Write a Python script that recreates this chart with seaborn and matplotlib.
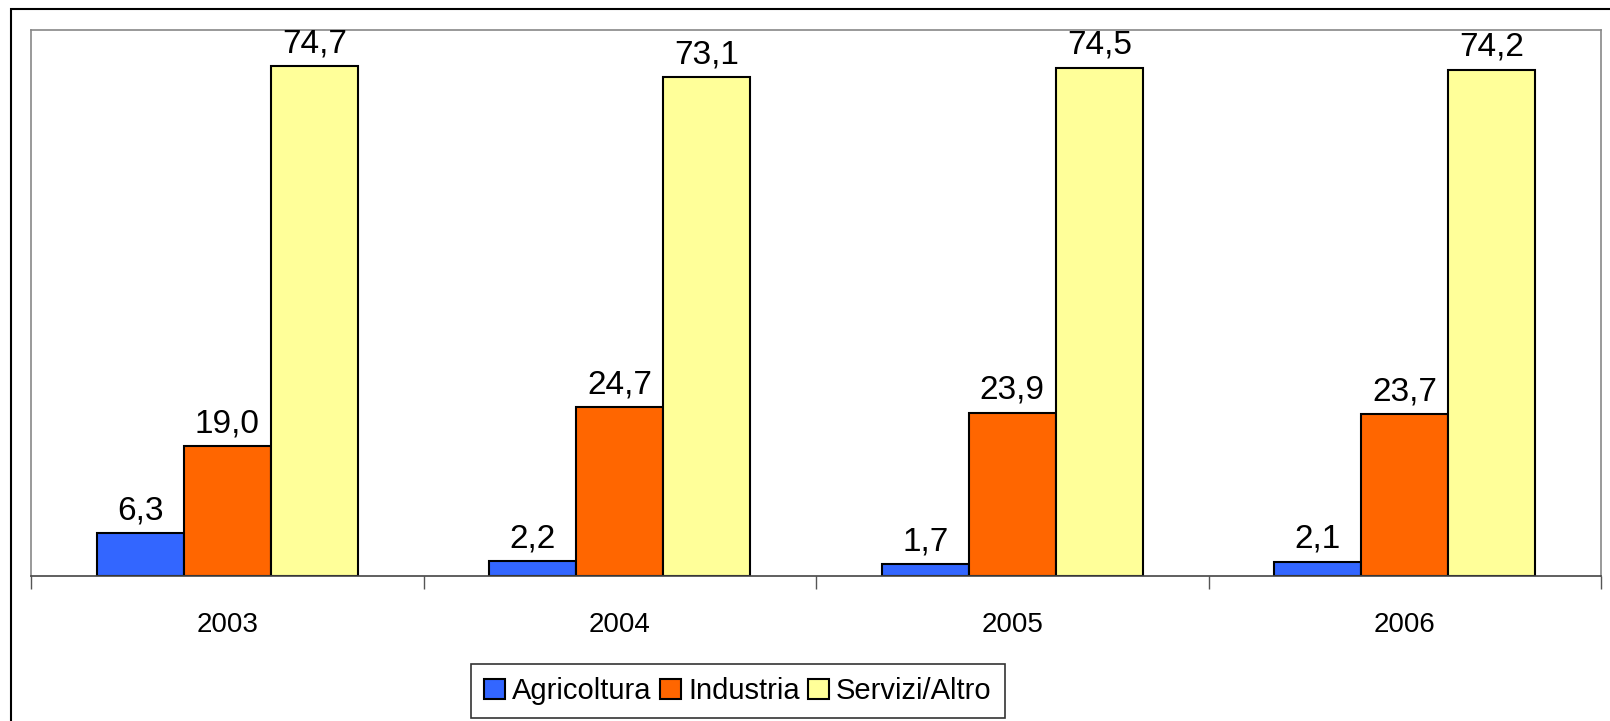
import pandas as pd
import matplotlib
matplotlib.use("Agg")
import matplotlib.pyplot as plt
import seaborn as sns
from matplotlib.patches import Rectangle

# Data
years = ["2003", "2004", "2005", "2006"]
agricoltura = [6.3, 2.2, 1.7, 2.1]
industria = [19.0, 24.7, 23.9, 23.7]
servizi = [74.7, 73.1, 74.5, 74.2]
sectors = ["Agricoltura", "Industria", "Servizi/Altro"]
colors = ["#3366FF", "#FF6600", "#FFFF99"]

# Long-form table for seaborn
rows = []
for name, values in zip(sectors, [agricoltura, industria, servizi]):
    for year, v in zip(years, values):
        rows.append({"Anno": year, "Settore": name, "Valore": v})
df = pd.DataFrame(rows)

sns.set_style("white")
plt.rcParams["font.family"] = ["Liberation Sans", "DejaVu Sans"]
plt.rcParams["text.color"] = "black"
plt.rcParams["xtick.color"] = "black"

fig = plt.figure(figsize=(16.1, 7.21), dpi=100)
ax = fig.add_axes([31 / 1610, 1 - 576 / 721, (1601 - 31) / 1610, (576 - 30) / 721])

sns.barplot(data=df, x="Anno", y="Valore", hue="Settore", hue_order=sectors,
            palette=colors, width=0.665, gap=0, edgecolor="black", linewidth=1.5,
            saturation=1, legend=True, ax=ax)

ax.set_ylim(0, 80)
ax.set_xlim(-0.5, 3.5)
ax.set_xlabel("")
ax.set_ylabel("")
ax.set_yticks([])

# value labels with decimal comma
for cont in ax.containers:
    ax.bar_label(cont, labels=[f"{b.get_height():.1f}".replace(".", ",") for b in cont],
                 padding=5, fontsize=24, color="black")

# category ticks between groups
ax.set_xticks([-0.5, 0.5, 1.5, 2.5, 3.5], minor=True)
ax.tick_params(axis="x", which="major", bottom=True, length=0, pad=26, labelsize=20,
               labelcolor="black")
ax.tick_params(axis="x", which="minor", bottom=True, length=9, width=1, color="#555555",
               direction="out")

for side in ["left", "top", "right"]:
    ax.spines[side].set_color("#888888")
    ax.spines[side].set_linewidth(1.2)
ax.spines["bottom"].set_color("#444444")
ax.spines["bottom"].set_linewidth(1.2)

# legend below plot
handles, labels = ax.get_legend_handles_labels()
ax.get_legend().remove()
leg = fig.legend(handles, labels, loc="upper center", bbox_to_anchor=(738 / 1610, 1 - 664 / 721),
                 ncol=3, fontsize=21, frameon=True, fancybox=False, shadow=False,
                 handlelength=0.7, handleheight=0.7, handletextpad=0.25, columnspacing=0.3,
                 borderpad=0.45, borderaxespad=0)
leg.get_frame().set_edgecolor("black")
leg.get_frame().set_linewidth(1.2)

# outer chart frame (cut off at right and bottom)
fig.add_artist(Rectangle((11 / 1610, -0.5), 2, 0.5 + 1 - 9 / 721, transform=fig.transFigure,
                         fill=False, edgecolor="black", linewidth=1.5))

fig.savefig("out.png", dpi=100)
